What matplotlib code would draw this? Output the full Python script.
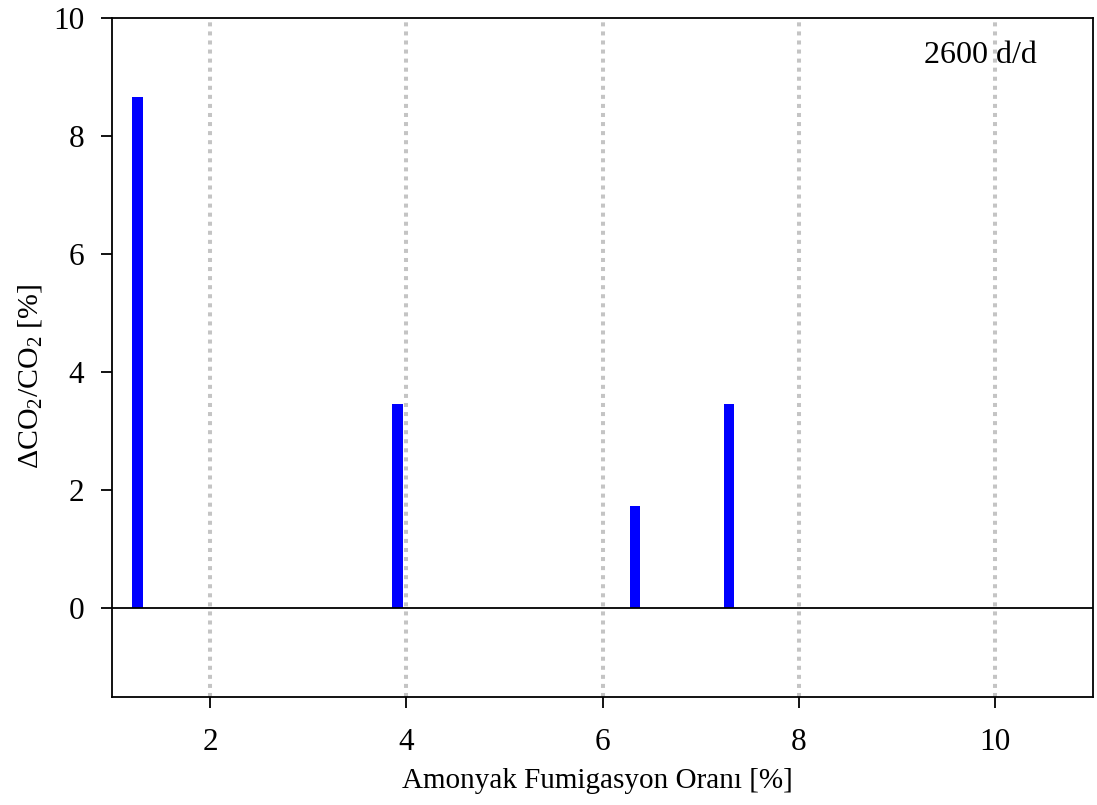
import matplotlib
matplotlib.use("Agg")
import matplotlib.pyplot as plt

# Ammonia fumigation ratio [%] and relative CO2 change [%]
fumigation_ratio = [1.26, 3.91, 6.33, 7.29]
delta_co2 = [8.67, 3.47, 1.74, 3.47]
x_ticks = [2, 4, 6, 8, 10]
y_ticks = [0, 2, 4, 6, 8, 10]
speed_label = "2600 d/d"

plt.rcParams["font.family"] = ["Liberation Serif", "DejaVu Serif"]
plt.rcParams["mathtext.fontset"] = "custom"
plt.rcParams["mathtext.rm"] = "Liberation Serif"
plt.rcParams["mathtext.default"] = "regular"

fig = plt.figure(figsize=(10.97, 8.05), dpi=100)
ax = fig.add_axes([0.1021, 0.1342, 0.8943, 0.8434])

for xv in x_ticks:
    ax.axvline(xv, color="#c4c4c4", linestyle=(0, (1.0, 1.25)), linewidth=2.9, zorder=0)

ax.bar(fumigation_ratio, delta_co2, width=0.11, color="#0000ff", zorder=2)
ax.axhline(0, color="black", linewidth=1.3, zorder=3)

ax.set_xlim(1, 11)
ax.set_ylim(-1.5, 10)
ax.set_xticks(x_ticks)
ax.set_yticks(y_ticks)
ax.tick_params(axis="both", direction="out", length=8, width=1.3, labelsize=22.5)
ax.tick_params(axis="x", pad=14)
ax.tick_params(axis="y", pad=12)
for sp in ax.spines.values():
    sp.set_linewidth(1.3)

ax.set_xlabel("Amonyak Fumigasyon Oranı [%]", fontsize=21)
ax.xaxis.set_label_coords(0.495, -0.105)
ax.set_ylabel("ΔCO$_2$/CO$_2$ [%]", fontsize=21.5)
ax.yaxis.set_label_coords(-0.069, 0.473)

ax.text(0.943, 0.945, speed_label, transform=ax.transAxes, ha="right", va="center", fontsize=23)

fig.savefig("out.png", dpi=100)
